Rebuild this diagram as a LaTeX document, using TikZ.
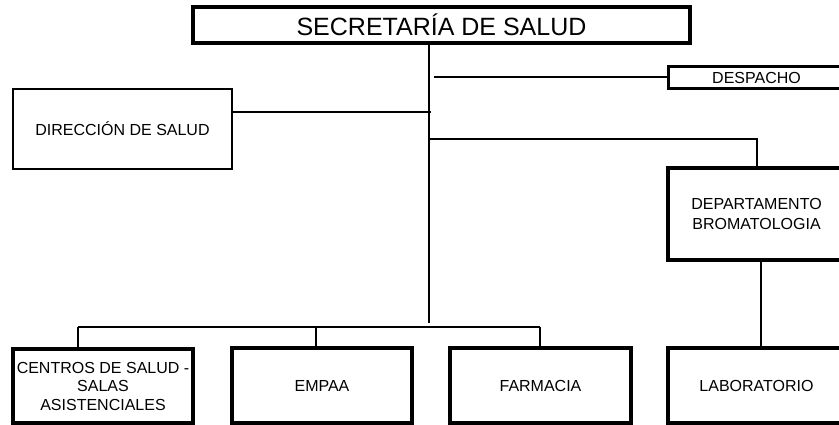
\documentclass[tikz,border=0pt]{standalone}
\usepackage{fontspec}
\setmainfont{Liberation Sans}
\begin{document}
\begin{tikzpicture}[x=1pt,y=-1pt,
  box/.style={draw, line width=4pt, inner sep=0pt, align=center, font=\fontsize{16}{18.5}\selectfont},
  thinbox/.style={box, line width=2pt},
  conn/.style={line width=2pt}]
\useasboundingbox (0,0) rectangle (839,425);
\clip (0,0) rectangle (839,425);
% boxes
\node[box, minimum width=497pt, minimum height=36pt, font=\fontsize{25}{30}\selectfont] (sec) at (441.5,25) {SECRETARÍA DE SALUD};
\node[box, line width=3pt, minimum width=177pt, minimum height=22pt] (desp) at (756.5,78) {DESPACHO};
\node[thinbox, minimum width=219pt, minimum height=80pt] (dir) at (122.5,129) {DIRECCIÓN DE SALUD};
\node[box, minimum width=177pt, minimum height=92pt, font=\fontsize{16}{20}\selectfont] (brom) at (756.5,214) {DEPARTAMENTO\\BROMATOLOGIA};
\node[box, minimum width=177pt, minimum height=75pt] (lab) at (756.5,385.5) {LABORATORIO};
\node[box, minimum width=180pt, minimum height=74pt] (cen) at (103,386) {CENTROS DE SALUD -\\SALAS\\ASISTENCIALES};
\node[box, minimum width=180pt, minimum height=75pt] (emp) at (322,385.5) {EMPAA};
\node[box, minimum width=181pt, minimum height=75pt] (far) at (540.5,385.5) {FARMACIA};
% connectors
\coordinate (tb) at (429,323);
\coordinate (dj) at (434,77);
\coordinate (rj) at (431,112);
\coordinate (bj) at (429,139);
\coordinate (lx) at (761,0);
\coordinate (busL) at (78,327);
\coordinate (busM) at (316,327);
\coordinate (busR) at (540,327);
\draw[conn] (sec.south -| tb) -- (tb);
\draw[conn] (dj) -- (dj -| desp.west);
\draw[conn] (rj) -- (rj -| dir.east);
\draw[conn] (bj) -| (brom.north);
\draw[conn] (brom.south -| lx) -- (lab.north -| lx);
\draw[conn] (busL) -- (busR);
\draw[conn] (busL) -- (busL |- cen.north);
\draw[conn] (busM) -- (busM |- emp.north);
\draw[conn] (busR) -- (busR |- far.north);
\end{tikzpicture}
\end{document}
